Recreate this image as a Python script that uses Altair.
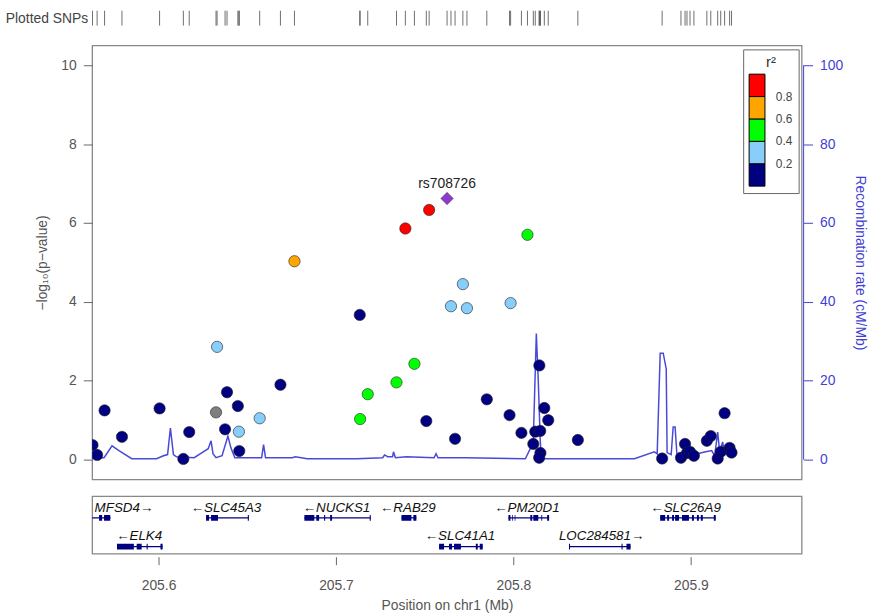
import altair as alt
import pandas as pd

# ---------------- data ----------------
snp_pos = [205.5628, 205.5654, 205.5696, 205.5794, 205.6006, 205.6140, 205.6173,
           205.6324, 205.6330, 205.6386, 205.6375, 205.6453, 205.6447, 205.6455,
           205.6570, 205.6687, 205.6766,
           205.7525, 205.7391, 205.8079, 205.7715, 205.7648, 205.7738, 205.7984,
           205.7134, 205.7442, 205.7341, 205.7179, 205.7136,
           205.7509, 205.7671, 205.7850, 205.7978, 205.8045, 205.8146, 205.8174,
           205.8196, 205.8123, 205.8151, 205.8112, 205.8152, 205.8145, 205.8363,
           205.8838, 205.8944, 205.8967, 205.8978, 205.8995, 205.9017, 205.9090,
           205.9112, 205.9151, 205.9168, 205.9190, 205.9218, 205.9229]
snp_logp = [0.37, 0.12, 1.25, 0.58, 1.30, 0.02, 0.70,
            1.20, 2.86, 1.71, 0.77, 0.71, 1.36, 0.22,
            1.05, 1.90, 5.03,
            6.33, 5.86, 5.70, 4.45, 3.89, 3.84, 3.97,
            3.67, 2.43, 1.96, 1.66, 1.03,
            0.98, 0.53, 1.53, 1.13, 0.68, 2.39, 1.31,
            1.00, 0.71, 0.73, 0.40, 0.17, 0.05, 0.50,
            0.03, 0.05, 0.40, 0.17, 0.20, 0.10, 0.48,
            0.60, 0.03, 0.20, 1.18, 0.30, 0.18]
snp_r2 = [0.05, 0.05, 0.05, 0.05, 0.05, 0.05, 0.05,
          None, 0.3, 0.1, 0.1, 0.3, 0.1, 0.1,
          0.3, 0.1, 0.7,
          0.9, 0.85, 0.5, 0.3, 0.3, 0.3, 0.3,
          0.1, 0.5, 0.5, 0.5, 0.5,
          0.1, 0.1, 0.1, 0.1, 0.1, 0.1, 0.1,
          0.1, 0.1, 0.1, 0.1, 0.1, 0.1, 0.1,
          0.05, 0.05, 0.05, 0.05, 0.05, 0.05, 0.05,
          0.05, 0.05, 0.05, 0.05, 0.05, 0.05]

lead_name = ["rs708726"]
lead_pos = [205.7626]
lead_logp = [6.62]

recomb_pos = [205.5626, 205.5693, 205.5738, 205.5777, 205.5849, 205.5989, 205.6028,
              205.6051, 205.6067, 205.6084, 205.6101, 205.6201, 205.6252, 205.6280,
              205.6296, 205.6307, 205.6324, 205.6358, 205.6391, 205.6408, 205.6430,
              205.6581, 205.6592, 205.6603, 205.6754, 205.6771, 205.6838, 205.7118,
              205.7263, 205.7274, 205.7291, 205.7319, 205.7324, 205.7335, 205.7397,
              205.7553, 205.7564, 205.7575, 205.7732, 205.8067, 205.8095, 205.8112,
              205.8129, 205.8140, 205.8151, 205.8157, 205.8682, 205.8794, 205.8810,
              205.8827, 205.8844, 205.8861, 205.8866, 205.8889, 205.8900, 205.8911,
              205.8922, 205.9017, 205.9084, 205.9117, 205.9134, 205.9151, 205.9162,
              205.9179, 205.9190, 205.9212, 205.9240]
recomb_rate = [0.5, 0.5, 3.5, 2.3, 0.25, 0.25, 1.0,
               1.3, 8.0, 1.3, 0.75, 0.5, 2.0, 2.8,
               4.8, 1.5, 0.5, 1.0, 6.0, 3.0, 0.5,
               0.5, 3.8, 0.5, 0.5, 0.75, 0.25, 0.25,
               0.5, 1.2, 0.75, 0.75, 2.0, 0.5, 0.75,
               0.5, 1.5, 0.5, 0.5, 0.25, 2.8, 5.0,
               32.0, 20.0, 5.0, 0.25, 0.25, 2.0, 1.5,
               27.0, 27.0, 23.0, 1.8, 1.3, 8.3, 8.3,
               0.75, 1.3, 2.0, 2.3, 1.0, 7.0, 2.0,
               4.5, 1.3, 1.8, 1.3]

gene_names = ["MFSD4", "ELK4", "SLC45A3", "NUCKS1", "RAB29", "SLC41A1", "PM20D1", "LOC284581", "SLC26A9"]
gene_strand = ["+", "-", "-", "-", "-", "-", "-", "+", "-"]
gene_row = [1, 2, 1, 1, 1, 2, 1, 2, 1]
gene_start = [205.5560, 205.5766, 205.6268, 205.6822, 205.7369, 205.7581, 205.7972, 205.8313, 205.8827]
gene_end = [205.5730, 205.6023, 205.6509, 205.7196, 205.7453, 205.7827, 205.8201, 205.8660, 205.9140]
gene_label_pos = [205.5805, 205.5891, 205.6380, 205.7003, 205.7405, 205.7699, 205.8076, 205.8497, 205.8970]
exon_starts = [
    [205.5665, 205.5693],
    [205.5766, 205.5877, 205.5933, 205.6011],
    [205.6268, 205.6296, 205.6503],
    [205.6822, 205.6889, 205.6933, 205.6967, 205.7190],
    [205.7369, 205.7436],
    [205.7581, 205.7637, 205.7665, 205.7788, 205.7810],
    [205.7972, 205.7993, 205.8007, 205.8095, 205.8112, 205.8157, 205.8190],
    [205.8313, 205.8609, 205.8637],
    [205.8827, 205.8866, 205.8894, 205.8911, 205.8950, 205.9006, 205.9034, 205.9056, 205.9129],
]
exon_ends = [
    [205.5682, 205.5728],
    [205.5861, 205.5905, 205.5939, 205.6023],
    [205.6285, 205.6335, 205.6509],
    [205.6878, 205.6905, 205.6939, 205.6978, 205.7196],
    [205.7425, 205.7453],
    [205.7609, 205.7654, 205.7704, 205.7799, 205.7827],
    [205.7983, 205.7997, 205.8011, 205.8106, 205.8140, 205.8162, 205.8201],
    [205.8319, 205.8615, 205.8660],
    [205.8855, 205.8877, 205.8905, 205.8933, 205.8989, 205.9017, 205.9045, 205.9067, 205.9140],
]

r2_breaks = [0.2, 0.4, 0.6, 0.8]
r2_colors = ["#000080", "#87CEFA", "#00FF00", "#FFA500", "#FF0000"]

# ---------------- styling ----------------
FONT = "Liberation Sans"
RC = "#3f3fd6"      # recombination colour
AXC = "#555555"
GC = "#000080"
W = 716
XDOM = [205.5626, 205.9624]

xscale = alt.Scale(domain=XDOM, nice=False, zero=False)

snps = pd.DataFrame({"pos": snp_pos, "logp": snp_logp, "r2": snp_r2})
ld = snps.dropna(subset=["r2"])
noinfo = snps[snps["r2"].isna()]
lead = pd.DataFrame({"pos": lead_pos, "logp": lead_logp, "name": lead_name})
allpos = pd.DataFrame({"pos": snp_pos + lead_pos})
recdf = pd.DataFrame({"pos": recomb_pos, "rate": recomb_rate})

# ---------------- rug of plotted SNPs ----------------
rug = alt.Chart(allpos).mark_rule(color="#555555", strokeWidth=1, opacity=0.85).encode(
    x=alt.X("pos:Q", scale=xscale, axis=None),
    y=alt.value(2), y2=alt.value(17),
)
rug_label = alt.Chart(pd.DataFrame({"t": ["Plotted SNPs"]})).mark_text(
    align="right", baseline="middle", fontSize=14, color="#444444", font=FONT
).encode(text="t:N", x=alt.value(-4), y=alt.value(10))
rug_chart = alt.layer(rug, rug_label).properties(
    width=W, height=20, view=alt.ViewBackground(stroke="transparent")
)

# ---------------- main association panel ----------------
def rec_y(field):
    return alt.Y(
        field,
        scale=alt.Scale(domain=[-5, 105], nice=False, zero=False),
        axis=alt.Axis(
            orient="right", values=[0, 20, 40, 60, 80, 100], title="Recombination rate (cM/Mb)",
            domain=False, grid=False, tickSize=9, offset=2, tickColor=RC, labelColor=RC,
            titleColor=RC, labelPadding=7, titlePadding=10, labelFontSize=14, titleFontSize=14,
            titleFontWeight="normal",
        ),
    )

rec_line = alt.Chart(recdf).mark_line(color=RC, strokeWidth=1.5, clip=True, opacity=0.95).encode(
    x=alt.X("pos:Q", scale=xscale, axis=None),
    y=rec_y("rate:Q"),
)
rec_axis_line = alt.Chart(pd.DataFrame({"rate": [0], "rate2": [100]})).mark_rule(color=RC, strokeWidth=1).encode(
    x=alt.value(W + 2),
    y=rec_y("rate:Q"),
    y2="rate2:Q",
)
rec_layer = alt.layer(rec_line, rec_axis_line)

yscale = alt.Scale(domain=[-0.5, 10.5], nice=False, zero=False)


def p_y():
    return alt.Y(
        "logp:Q", scale=yscale,
        axis=alt.Axis(
            orient="left", values=[0, 2, 4, 6, 8, 10], title="\u2212log\u2081\u2080(p\u2212value)",
            domain=False, grid=False, tickSize=9, tickColor="#666666", labelColor=AXC,
            titleColor=AXC, labelPadding=7, titlePadding=12, labelFontSize=14, titleFontSize=14,
            titleFontWeight="normal",
        ),
    )


points = alt.Chart(ld).mark_circle(size=130, opacity=1, stroke="#222222", strokeWidth=0.6, clip=True).encode(
    x=alt.X("pos:Q", scale=xscale, axis=None),
    y=p_y(),
    color=alt.Color(
        "r2:Q",
        scale=alt.Scale(type="threshold", domain=r2_breaks, range=r2_colors),
        legend=alt.Legend(
            type="gradient", direction="vertical", orient="none", legendX=657, legendY=41,
            title="r\u00b2",
            gradientLength=113, gradientThickness=16, labelFontSize=12, titleFontSize=15,
            titleFontWeight="normal", titleAnchor="middle", padding=6, strokeColor="#666666",
            fillColor="white", labelOffset=11, gradientStrokeColor="#000000", gradientStrokeWidth=1,
            labelColor="#444444", titleColor="#333333", titlePadding=4, format=".1f",
        ),
    ),
)
gray_pts = alt.Chart(noinfo).mark_circle(size=130, opacity=1, color="#7F7F7F", stroke="#222222", strokeWidth=0.6).encode(
    x=alt.X("pos:Q", scale=xscale, axis=None),
    y=p_y(),
)
lead_pt = alt.Chart(lead).mark_point(shape="diamond", filled=True, size=160, color="#8a3ccf",
                                     stroke="#444444", strokeWidth=0.5, opacity=1).encode(
    x=alt.X("pos:Q", scale=xscale, axis=None),
    y=p_y(),
)
lead_txt = alt.Chart(lead).mark_text(dy=-15, fontSize=14, color="#222222", font=FONT).encode(
    x=alt.X("pos:Q", scale=xscale, axis=None),
    y=p_y(),
    text="name:N",
)
assoc = alt.layer(points, gray_pts, lead_pt, lead_txt)
main_chart = alt.layer(rec_layer, assoc).resolve_scale(y="independent").properties(width=W, height=438)

# ---------------- gene panel ----------------
genes = pd.DataFrame({
    "name": gene_names, "strand": gene_strand, "row": gene_row,
    "start": gene_start, "end": gene_end, "lpos": gene_label_pos,
})
genes["label"] = [("\u2190" + n) if s == "-" else (n + "\u2192") for n, s in zip(gene_names, gene_strand)]
ex_rows = []
for g, r, ss, ee in zip(gene_names, gene_row, exon_starts, exon_ends):
    for s, e in zip(ss, ee):
        ex_rows.append({"gene": g, "row": r, "start": s, "end": e})
exons = pd.DataFrame(ex_rows)

gy = alt.Scale(domain=[0, 2], reverse=True, nice=False, zero=False)


def g_x(field):
    return alt.X(
        field, scale=xscale,
        axis=alt.Axis(
            values=[205.6, 205.7, 205.8, 205.9], format=".1f", title="Position on chr1 (Mb)",
            domain=False, grid=False, tickSize=8, offset=3, tickColor="#666666", labelColor=AXC,
            titleColor=AXC, labelPadding=14, titlePadding=6, labelFontSize=14, titleFontSize=14,
            titleFontWeight="normal",
        ),
    )


body = alt.Chart(genes).transform_calculate(by="datum.row - 0.25").mark_rule(
    color=GC, strokeWidth=1.2, clip=True
).encode(
    x=g_x("start:Q"),
    x2="end:Q",
    y=alt.Y("by:Q", scale=gy, axis=None),
)
exon_marks = alt.Chart(exons).transform_calculate(
    y1="datum.row - 0.35", y2="datum.row - 0.15"
).mark_rect(color=GC, clip=True).encode(
    x=g_x("start:Q"),
    x2="end:Q",
    y=alt.Y("y1:Q", scale=gy, axis=None),
    y2="y2:Q",
)
glabels = alt.Chart(genes).transform_calculate(ly="datum.row - 0.60").mark_text(
    fontSize=13.5, fontStyle="italic", color="#111111", font=FONT, baseline="middle"
).encode(
    x=g_x("lpos:Q"),
    y=alt.Y("ly:Q", scale=gy, axis=None),
    text="label:N",
)
gene_chart = alt.layer(body, exon_marks, glabels).properties(width=W, height=58)

chart = alt.vconcat(rug_chart, main_chart, gene_chart, spacing=17, bounds="flush").properties(
    padding={"left": 5, "top": 5, "right": 2, "bottom": 2}
).configure(font=FONT).configure_view(stroke="#888888", strokeWidth=1.3)

chart.save("out.html", embed_options={"renderer": "svg", "actions": False})
